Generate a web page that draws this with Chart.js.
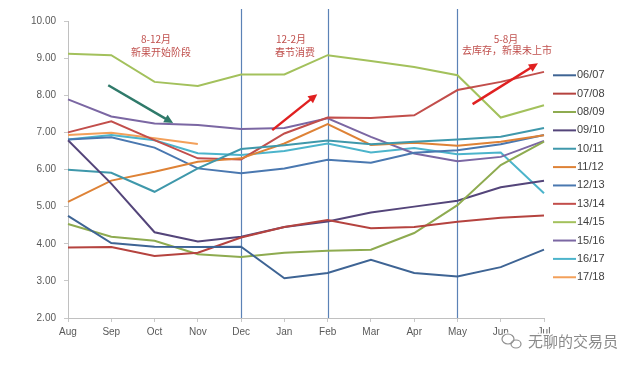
<!DOCTYPE html>
<html>
<head>
<meta charset="utf-8">
<script src="https://cdn.jsdelivr.net/npm/chart.js@4.4.0/dist/chart.umd.min.js"></script>
<style>
  html, body { margin: 0; padding: 0; background: #fff; }
  #wrap { width: 640px; height: 368px; position: relative; }
</style>
</head>
<body>
<div id="wrap"><canvas id="chart"></canvas></div>
<script>
// 月份
const months = ['Aug', 'Sep', 'Oct', 'Nov', 'Dec', 'Jan', 'Feb', 'Mar', 'Apr', 'May', 'Jun', 'Jul']
const yTicks = [2, 3, 4, 5, 6, 7, 8, 9, 10]

// 各产季价格
const s0607 = [4.75, 4.02, 3.92, 3.91, 3.92, 3.07, 3.21, 3.57, 3.21, 3.12, 3.37, 3.84]
const s0708 = [3.90, 3.91, 3.67, 3.76, 4.17, 4.45, 4.64, 4.42, 4.45, 4.59, 4.70, 4.76]
const s0809 = [4.53, 4.19, 4.08, 3.72, 3.64, 3.76, 3.81, 3.84, 4.29, 5.04, 6.12, 6.75]
const s0910 = [6.79, 5.62, 4.31, 4.06, 4.19, 4.45, 4.60, 4.84, 5.00, 5.16, 5.52, 5.70]
const s1011 = [5.99, 5.91, 5.40, 6.03, 6.55, 6.65, 6.78, 6.68, 6.75, 6.81, 6.88, 7.12]
const s1112 = [5.13, 5.70, 5.94, 6.21, 6.30, 6.70, 7.22, 6.66, 6.72, 6.64, 6.75, 6.92]
const s1213 = [6.81, 6.87, 6.59, 6.03, 5.90, 6.03, 6.26, 6.18, 6.45, 6.52, 6.68, 6.93]
const s1314 = [7.00, 7.30, 6.79, 6.30, 6.27, 6.97, 7.40, 7.39, 7.46, 8.14, 8.36, 8.63]
const s1415 = [9.12, 9.08, 8.36, 8.25, 8.56, 8.56, 9.08, 8.92, 8.76, 8.54, 7.40, 7.73]
const s1516 = [7.89, 7.43, 7.24, 7.20, 7.09, 7.12, 7.38, 6.88, 6.43, 6.22, 6.34, 6.77]
const s1617 = [6.81, 6.93, 6.79, 6.44, 6.39, 6.50, 6.70, 6.46, 6.58, 6.41, 6.46, 5.36]
const s1718 = [6.93, 6.99, 6.84, 6.69, null, null, null, null, null, null, null, null]

const seasons = ['06/07', '07/08', '08/09', '09/10', '10/11', '11/12', '12/13', '13/14', '14/15', '15/16', '16/17', '17/18']
const seasonData = [s0607, s0708, s0809, s0910, s1011, s1112, s1213, s1314, s1415, s1516, s1617, s1718]
const colors = ['#3e6494', '#b5433f', '#8eab50', '#54457a', '#3f98ab', '#de8236',
                '#4a78b0', '#c24e4b', '#a3c15c', '#7b67a3', '#4cb4cb', '#f3a05a']

// 分隔线所在月份
const dividers = ['Dec', 'Feb', 'May']

const datasets = seasons.map((s, i) => ({
  label: s,
  data: seasonData[i],
  borderColor: colors[i],
  backgroundColor: colors[i],
  borderWidth: 2,
  pointRadius: 0,
  tension: 0,
  spanGaps: false
}))

function arrow(ctx, x1, y1, x2, y2, color) {
  const a = Math.atan2(y2 - y1, x2 - x1)
  ctx.strokeStyle = color
  ctx.fillStyle = color
  ctx.lineWidth = 2.5
  ctx.beginPath()
  ctx.moveTo(x1, y1)
  ctx.lineTo(x2 - 6 * Math.cos(a), y2 - 6 * Math.sin(a))
  ctx.stroke()
  ctx.beginPath()
  ctx.moveTo(x2, y2)
  ctx.lineTo(x2 - 10 * Math.cos(a - 0.45), y2 - 10 * Math.sin(a - 0.45))
  ctx.lineTo(x2 - 10 * Math.cos(a + 0.45), y2 - 10 * Math.sin(a + 0.45))
  ctx.closePath()
  ctx.fill()
}

const extras = {
  id: 'extras',
  beforeDatasetsDraw(chart) {
    const { ctx, scales: { x }, chartArea } = chart
    ctx.save()
    ctx.strokeStyle = '#5b82b6'
    ctx.lineWidth = 1.2
    dividers.forEach(m => {
      const px = Math.round(x.getPixelForValue(months.indexOf(m))) + 0.5
      ctx.beginPath()
      ctx.moveTo(px, 9)
      ctx.lineTo(px, chartArea.bottom)
      ctx.stroke()
    })
    ctx.restore()
  },
  afterDraw(chart) {
    const { ctx, scales: { x, y } } = chart
    ctx.save()
    // 注释文字
    ctx.fillStyle = '#c0504d'
    ctx.font = '10px "Noto Sans CJK SC"'
    ctx.textAlign = 'center'
    ctx.textBaseline = 'middle'
    ctx.fillText('8-12月', 156, 39)
    ctx.fillText('新果开始阶段', 161, 52)
    ctx.fillText('12-2月', 291, 39)
    ctx.fillText('春节消费', 295, 52)
    ctx.fillText('5-8月', 506, 39)
    ctx.fillText('去库存，新果未上市', 507, 50)

    // 箭头
    arrow(ctx, x.getPixelForValue(0.93), y.getPixelForValue(8.27), x.getPixelForValue(2.43), y.getPixelForValue(7.25), '#2f7a6a')
    arrow(ctx, x.getPixelForValue(4.72), y.getPixelForValue(7.06), x.getPixelForValue(5.76), y.getPixelForValue(8.03), '#e02020')
    arrow(ctx, x.getPixelForValue(9.35), y.getPixelForValue(7.76), x.getPixelForValue(10.86), y.getPixelForValue(8.86), '#e02020')

    // 图例
    ctx.font = '11px "Liberation Sans"'
    ctx.textAlign = 'left'
    chart.data.datasets.forEach((ds, i) => {
      const ly = 75.3 + i * 18.36
      ctx.strokeStyle = ds.borderColor
      ctx.lineWidth = 2
      ctx.beginPath()
      ctx.moveTo(553, ly)
      ctx.lineTo(576, ly)
      ctx.stroke()
      ctx.fillStyle = '#404040'
      ctx.fillText(ds.label, 577, ly)
    })

    // 水印
    ctx.font = '15px "Noto Sans CJK SC"'
    ctx.strokeStyle = '#ffffff'
    ctx.lineWidth = 3
    ctx.beginPath()
    ctx.ellipse(508, 339, 6, 5, 0, 0, Math.PI * 2)
    ctx.stroke()
    ctx.strokeText('无聊的交易员', 528, 341)
    ctx.strokeStyle = '#8f8f8f'
    ctx.lineWidth = 1.2
    ctx.beginPath()
    ctx.ellipse(508, 339, 6, 5, 0, 0, Math.PI * 2)
    ctx.stroke()
    ctx.beginPath()
    ctx.ellipse(516, 344, 5, 4, 0, 0, Math.PI * 2)
    ctx.stroke()
    ctx.fillStyle = '#8a8a8a'
    ctx.fillText('无聊的交易员', 528, 341)
    ctx.restore()
  }
}

new Chart(document.getElementById('chart'), {
  type: 'line',
  data: { labels: months, datasets: datasets },
  options: {
    responsive: true,
    maintainAspectRatio: false,
    animation: false,
    layout: { padding: { left: 0, right: 96, top: 21, bottom: 0 } },
    plugins: {
      legend: { display: false },
      tooltip: { enabled: false }
    },
    scales: {
      x: {
        offset: false,
        grid: { drawOnChartArea: false, drawTicks: true, tickLength: 4, color: '#c8c8c8' },
        border: { color: '#c0c0c0' },
        ticks: { color: '#595959', font: { family: 'Liberation Sans', size: 10 }, padding: 4, maxRotation: 0, autoSkip: false },
        afterFit: s => { s.height = 50 }
      },
      y: {
        min: 2,
        max: 10,
        afterBuildTicks: s => { s.ticks = yTicks.map(v => ({ value: v })) },
        grid: { drawOnChartArea: false, drawTicks: true, tickLength: 4, color: '#c8c8c8' },
        border: { color: '#c0c0c0' },
        ticks: { color: '#595959', font: { family: 'Liberation Sans', size: 10 }, padding: 8, callback: v => v.toFixed(2) },
        afterFit: s => { s.width = 68 }
      }
    }
  },
  plugins: [extras]
})
</script>
</body>
</html>
